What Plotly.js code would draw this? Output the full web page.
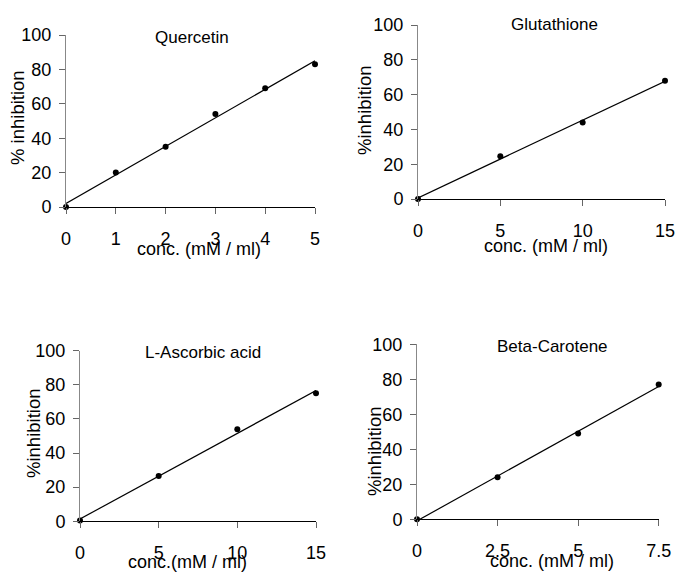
<!DOCTYPE html>
<html>
<head>
<meta charset="utf-8">
<script src="https://cdn.plot.ly/plotly-3.0.1.min.js"></script>
<style>html,body{margin:0;padding:0;background:#fff}#chart{width:676px;height:574px}</style>
</head>
<body>
<div id="chart"></div>
<script>
// ---- data ----
const titles = ["Quercetin", "Glutathione", "L-Ascorbic acid", "Beta-Carotene"];
const yTitles = ["% inhibition", "%inhibition", "%inhibition", "%inhibition"];
const xTitles = ["conc. (mM / ml)", "conc. (mM / ml)", "conc.(mM / ml)", "conc. (mM / ml)"];

const quercetinX = [0, 1, 2, 3, 4, 5];
const quercetinY = [0, 20, 35, 54, 69, 83];
const glutathioneX = [0, 5, 10, 15];
const glutathioneY = [0, 24.5, 44, 68];
const ascorbicX = [0, 5, 10, 15];
const ascorbicY = [0.5, 26.5, 54, 75];
const caroteneX = [0, 2.5, 5, 7.5];
const caroteneY = [0, 24, 49, 77];

const xTicks1 = [0, 1, 2, 3, 4, 5];
const xTicks2 = [0, 5, 10, 15];
const xTicks3 = [0, 5, 10, 15];
const xTicks4 = [0, 2.5, 5, 7.5];
const xTickText4 = ["0", "2.5", "5", "7.5"];
const yTicks = [0, 20, 40, 60, 80, 100];

// ---- layout helpers ----
const W = 676, H = 574;
const px = v => v / W;
const py = v => 1 - v / H;

function fit(xs, ys) {
  const n = xs.length;
  const mx = xs.reduce((a, b) => a + b, 0) / n;
  const my = ys.reduce((a, b) => a + b, 0) / n;
  let sxy = 0, sxx = 0;
  for (let i = 0; i < n; i++) { sxy += (xs[i] - mx) * (ys[i] - my); sxx += (xs[i] - mx) ** 2; }
  const m = sxy / sxx, b = my - m * mx;
  const x0 = Math.min(...xs), x1 = Math.max(...xs);
  return { x: [x0, x1], y: [m * x0 + b, m * x1 + b] };
}

const sets = [
  [quercetinX, quercetinY],
  [glutathioneX, glutathioneY],
  [ascorbicX, ascorbicY],
  [caroteneX, caroteneY]
];

const traces = [];
sets.forEach((s, i) => {
  const sfx = i === 0 ? "" : String(i + 1);
  const f = fit(s[0], s[1]);
  traces.push({ x: f.x, y: f.y, xaxis: "x" + sfx, yaxis: "y" + sfx, mode: "lines",
    line: { color: "#000", width: 1.2 }, showlegend: false, hoverinfo: "skip" });
  traces.push({ x: s[0], y: s[1], xaxis: "x" + sfx, yaxis: "y" + sfx, mode: "markers",
    marker: { color: "#000", size: 6 }, cliponaxis: false, showlegend: false });
});

const font = { family: "Liberation Sans, Arial, sans-serif", color: "#000" };
const tickFont = Object.assign({}, font, { size: 18 });

function xa(domain, tickvals, range, anchor, ticktext) {
  const a = { domain: domain, range: range, anchor: anchor, tickmode: "array", tickvals: tickvals,
    showgrid: false, zeroline: false, showline: true, linecolor: "#000", linewidth: 1,
    ticks: "outside", ticklen: 6, tickcolor: "#666", tickfont: tickFont, ticklabelstandoff: 9,
    fixedrange: true };
  if (ticktext) a.ticktext = ticktext;
  return a;
}
function ya(domain, anchor) {
  return { domain: domain, range: [0, 100], anchor: anchor, tickmode: "array", tickvals: yTicks,
    showgrid: false, zeroline: false, showline: true, linecolor: "#888", linewidth: 1,
    ticks: "outside", ticklen: 6, tickcolor: "#666", tickfont: tickFont, ticklabelstandoff: 4,
    fixedrange: true };
}

// pixel boxes [left, right, top, bottom]
const boxes = [
  [66, 315, 35, 207],
  [418, 665, 25, 199],
  [80, 316, 350.7, 521.3],
  [417, 658.7, 344.3, 519.3]
];
const ranges = [[0, 5], [0, 15], [0, 15], [0, 7.5]];
const tickSets = [xTicks1, xTicks2, xTicks3, xTicks4];

const layout = {
  width: W, height: H,
  margin: { l: 0, r: 0, t: 0, b: 0 },
  paper_bgcolor: "#fff", plot_bgcolor: "#fff",
  font: font,
  annotations: []
};

boxes.forEach((b, i) => {
  const sfx = i === 0 ? "" : String(i + 1);
  layout["xaxis" + sfx] = xa([px(b[0]), px(b[1])], tickSets[i], ranges[i], "y" + sfx, i === 3 ? xTickText4 : null);
  layout["yaxis" + sfx] = ya([py(b[3]), py(b[2])], "x" + sfx);
});

// title / axis-title positions (pixels)
const titlePos = [[192, 37], [554, 25], [203, 352], [552, 346]];
const yTitlePos = [[18, 118], [365, 111], [33, 434], [374, 452]];
const xTitlePos = [[199, 249], [546, 246], [188, 562], [552, 561]];

for (let i = 0; i < 4; i++) {
  layout.annotations.push({ text: titles[i], xref: "paper", yref: "paper",
    x: px(titlePos[i][0]), y: py(titlePos[i][1]), xanchor: "center", yanchor: "middle",
    showarrow: false, font: Object.assign({}, font, { size: 17 }) });
  layout.annotations.push({ text: yTitles[i], xref: "paper", yref: "paper",
    x: px(yTitlePos[i][0]), y: py(yTitlePos[i][1]), xanchor: "center", yanchor: "middle",
    textangle: -90, showarrow: false, font: Object.assign({}, font, { size: 18.5 }) });
  layout.annotations.push({ text: xTitles[i], xref: "paper", yref: "paper",
    x: px(xTitlePos[i][0]), y: py(xTitlePos[i][1]), xanchor: "center", yanchor: "middle",
    showarrow: false, font: Object.assign({}, font, { size: 18 }) });
}

Plotly.newPlot("chart", traces, layout, { staticPlot: true, displayModeBar: false });
</script>
</body>
</html>
